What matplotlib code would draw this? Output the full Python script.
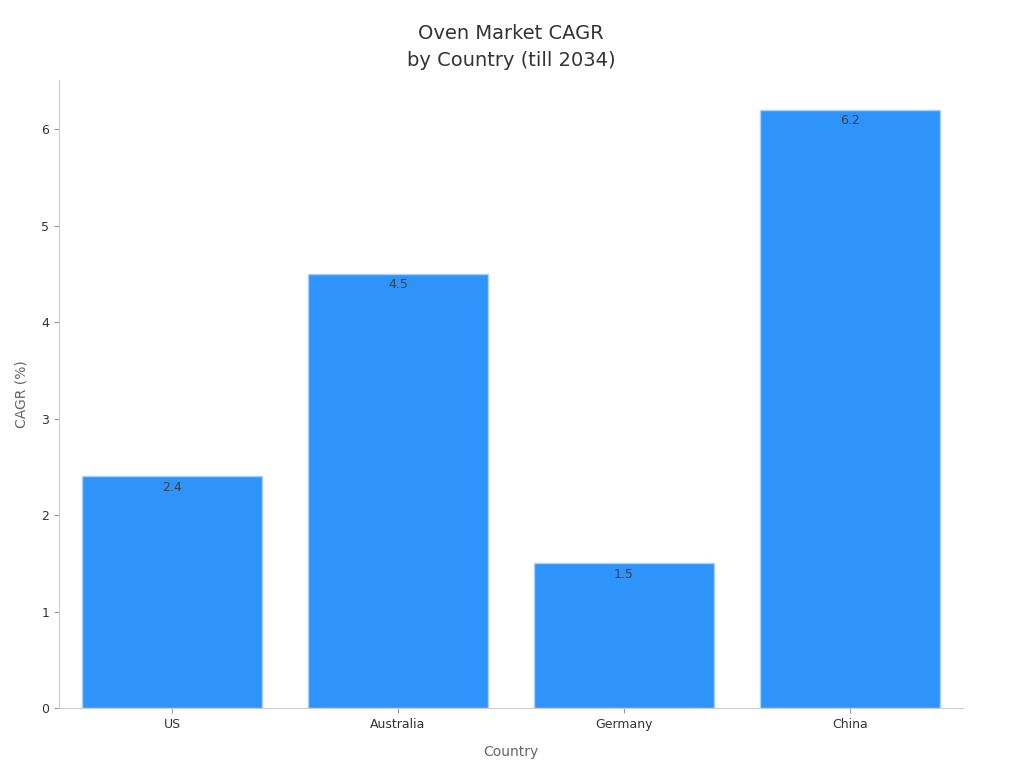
import matplotlib
matplotlib.use('Agg')
import matplotlib.pyplot as plt

# data
countries = ['US', 'Australia', 'Germany', 'China']
cagr = [2.4, 4.5, 1.5, 6.2]

fig = plt.figure(figsize=(10.24, 7.68), dpi=100)
ax = fig.add_axes([0.0576, 0.078, 0.8828, 0.818])

bars = ax.bar(countries, cagr, width=0.8, color='#2E93FA', edgecolor='#A8D2FB', linewidth=1)

# value labels just inside the top of each bar
for b, v in zip(bars, cagr):
    ax.annotate(str(v), (b.get_x() + b.get_width() / 2, v), xytext=(0, -3),
                textcoords='offset points', ha='center', va='top',
                fontsize=9, color='#404040')

ax.set_xlim(-0.5, 3.5)
ax.set_ylim(0, 6.51)
ax.set_title('Oven Market CAGR\nby Country (till 2034)', fontsize=14, color='#333333',
             pad=10, linespacing=1.55)
ax.set_xlabel('Country', fontsize=10, color='#666666', labelpad=10)
ax.set_ylabel('CAGR (%)', fontsize=10, color='#666666', labelpad=9)

for s in ['top', 'right']:
    ax.spines[s].set_visible(False)
for s in ['left', 'bottom']:
    ax.spines[s].set_color('#CCCCCC')
ax.tick_params(axis='both', labelsize=9, colors='#333333')
ax.tick_params(axis='both', color='#999999')

plt.savefig('out.png', dpi=100)
